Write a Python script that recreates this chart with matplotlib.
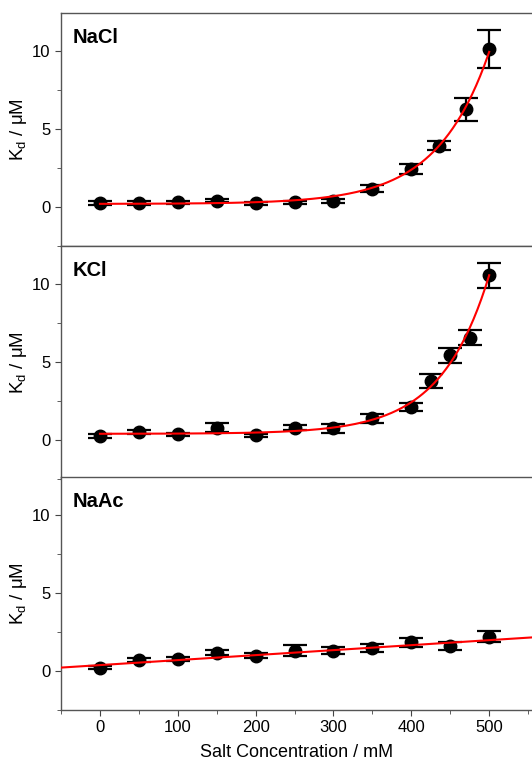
import numpy as np
import matplotlib
matplotlib.use("Agg")
import matplotlib.pyplot as plt
from matplotlib.ticker import MultipleLocator

plt.rcParams['font.family'] = ['Liberation Sans', 'DejaVu Sans']

## data
nacl_x = [0, 50, 100, 150, 200, 250, 300, 350, 400, 435, 470, 500]
nacl_y = [0.26, 0.26, 0.30, 0.40, 0.25, 0.30, 0.40, 1.18, 2.43, 3.94, 6.26, 10.13]
nacl_err = [0.1, 0.1, 0.1, 0.1, 0.1, 0.1, 0.12, 0.23, 0.3, 0.3, 0.72, 1.24]

kcl_x = [0, 50, 100, 150, 200, 250, 300, 350, 400, 425, 450, 475, 500]
kcl_y = [0.26, 0.54, 0.37, 0.80, 0.32, 0.80, 0.75, 1.40, 2.13, 3.80, 5.43, 6.57, 10.58]
kcl_err = [0.1, 0.12, 0.1, 0.3, 0.1, 0.15, 0.28, 0.28, 0.27, 0.43, 0.47, 0.46, 0.8]

naac_x = [0, 50, 100, 150, 200, 250, 300, 350, 400, 450, 500]
naac_y = [0.22, 0.71, 0.77, 1.18, 0.99, 1.31, 1.29, 1.46, 1.85, 1.63, 2.20]
naac_err = [0.12, 0.15, 0.12, 0.15, 0.15, 0.33, 0.22, 0.25, 0.3, 0.25, 0.35]

## fit parameters (exp growth: y0 + A*exp(x/t), linear: a + b*x)
nacl_fit = (0.2, 0.0056, 67.0)
kcl_fit = (0.4, 0.0032, 62.0)
naac_fit = (0.38, 0.0032)

panels = [
    ('NaCl', nacl_x, nacl_y, nacl_err),
    ('KCl', kcl_x, kcl_y, kcl_err),
    ('NaAc', naac_x, naac_y, naac_err),
]

fig = plt.figure(figsize=(5.32, 7.64), dpi=100)
tops = [0.983, 0.678, 0.3757]
h = 0.305
axes = []
for i, (name, x, y, e) in enumerate(panels):
    ax = fig.add_axes([0.1147, tops[i] - h, 0.8853, h])
    axes.append(ax)
    ax.errorbar(x, y, yerr=e, fmt='o', color='black', ms=9,
                ecolor='black', elinewidth=1.6, capsize=8.5, capthick=1.6, zorder=3)
    if name == 'NaAc':
        xx = np.linspace(-50, 555, 50)
        ax.plot(xx, naac_fit[0] + naac_fit[1] * xx, color='red', lw=1.5, zorder=4)
    else:
        y0, A, t = nacl_fit if name == 'NaCl' else kcl_fit
        xx = np.linspace(0, 500, 300)
        ax.plot(xx, y0 + A * np.exp(xx / t), color='red', lw=1.5, zorder=4)
    ax.set_xlim(-50, 555)
    ax.set_ylim(-2.5, 12.45)
    ax.text(0.025, 0.935, name, transform=ax.transAxes, fontsize=14.5,
            fontweight='bold', va='top', ha='left')
    ax.set_ylabel(r'K$_\mathregular{d}$ / $\mathregular{\mu}$M', fontsize=13.5, labelpad=0)
    ax.yaxis.set_label_coords(-0.068, 0.5)
    ax.yaxis.set_major_locator(MultipleLocator(5))
    ax.yaxis.set_minor_locator(MultipleLocator(2.5))
    ax.xaxis.set_major_locator(MultipleLocator(100))
    ax.xaxis.set_minor_locator(MultipleLocator(50))
    ax.tick_params(which='both', direction='out', labelsize=12, color='#444444')
    ax.tick_params(which='major', length=4)
    ax.tick_params(which='minor', length=3)
    ax.spines['right'].set_visible(False)
    for s in ['left', 'top', 'bottom']:
        ax.spines[s].set_color('#555555')
        ax.spines[s].set_linewidth(1.0)
    if i < 2:
        ax.tick_params(axis='x', labelbottom=False)

axes[2].set_xlabel('Salt Concentration / mM', fontsize=13, labelpad=6)

fig.savefig('out.png', dpi=100)
